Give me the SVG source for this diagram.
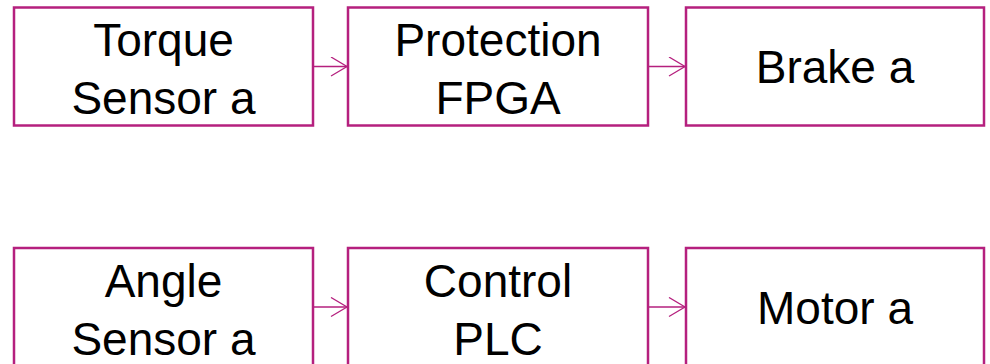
<svg xmlns="http://www.w3.org/2000/svg" width="990" height="364" viewBox="0 0 990 364">
<style>
.box{fill:#fff;stroke:#B5207E;stroke-width:2.5}
.lbl{font-family:"Liberation Sans",Arial,sans-serif;font-size:46px;fill:#000;text-anchor:middle}
.conn{stroke:#B5207E;stroke-width:1.3;fill:none}
</style>
<defs>
<marker id="arr" markerUnits="userSpaceOnUse" markerWidth="20" markerHeight="24" refX="17" refY="10" orient="auto">
<path d="M1,0.5 L17,10 L1,19.5" fill="none" stroke="#B5207E" stroke-width="1.3"/>
</marker>
</defs>
<rect width="990" height="364" fill="#fff"/>
<g id="torque"><rect class="box" x="14" y="7.5" width="299" height="118"/><text class="lbl" x="163.5" y="56">Torque</text><text class="lbl" x="163.5" y="114">Sensor a</text></g>
<g id="protection"><rect class="box" x="348" y="7.5" width="300" height="118"/><text class="lbl" x="498" y="56">Protection</text><text class="lbl" x="498" y="114">FPGA</text></g>
<g id="brake"><rect class="box" x="686" y="7.5" width="298" height="118"/><text class="lbl" x="835" y="83">Brake a</text></g>
<g id="angle"><rect class="box" x="14" y="248" width="299" height="130"/><text class="lbl" x="163.5" y="297">Angle</text><text class="lbl" x="163.5" y="355">Sensor a</text></g>
<g id="control"><rect class="box" x="348" y="248" width="300" height="130"/><text class="lbl" x="498" y="297">Control</text><text class="lbl" x="498" y="355">PLC</text></g>
<g id="motor"><rect class="box" x="686" y="248" width="298" height="130"/><text class="lbl" x="835" y="324">Motor a</text></g>
<g id="connectors">
<line class="conn" x1="314" y1="66.5" x2="347" y2="66.5" marker-end="url(#arr)"/>
<line class="conn" x1="649" y1="66.5" x2="685" y2="66.5" marker-end="url(#arr)"/>
<line class="conn" x1="314" y1="307" x2="347" y2="307" marker-end="url(#arr)"/>
<line class="conn" x1="649" y1="307" x2="685" y2="307" marker-end="url(#arr)"/>
</g>
</svg>
